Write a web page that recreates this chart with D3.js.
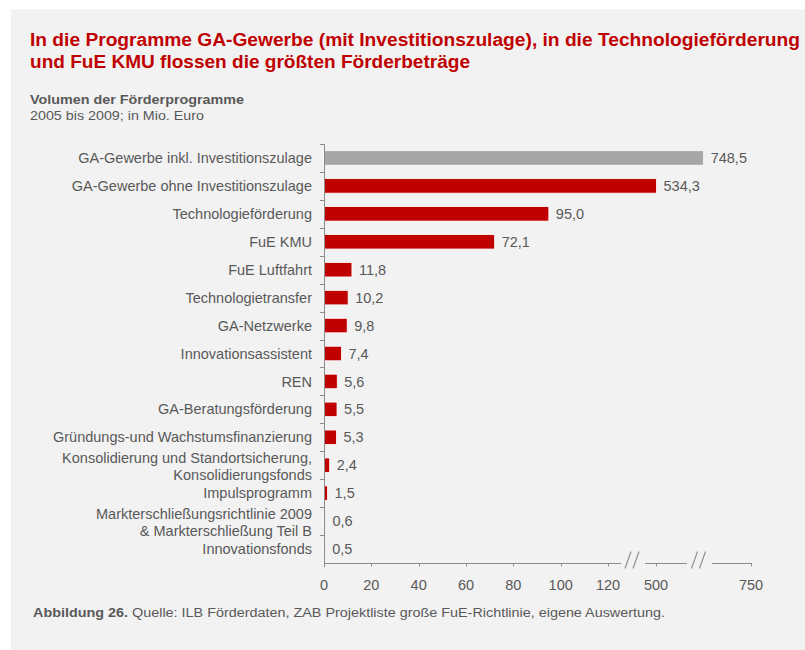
<!DOCTYPE html>
<html>
<head>
<meta charset="utf-8">
<script src="https://cdn.jsdelivr.net/npm/d3@7"></script>
<style>
  body { margin: 0; background: #fff; }
  svg text { font-family: "Liberation Sans", Arial, sans-serif; }
</style>
</head>
<body>
<svg id="chart" width="805" height="650"></svg>
<script>
// Chart data
const categories = [
    "GA-Gewerbe inkl. Investitionszulage",
    "GA-Gewerbe ohne Investitionszulage",
    "Technologieförderung",
    "FuE KMU",
    "FuE Luftfahrt",
    "Technologietransfer",
    "GA-Netzwerke",
    "Innovationsassistent",
    "REN",
    "GA-Beratungsförderung",
    "Gründungs-und Wachstumsfinanzierung",
    "Konsolidierung und Standortsicherung,\nKonsolidierungsfonds",
    "Impulsprogramm",
    "Markterschließungsrichtlinie 2009\n& Markterschließung Teil B",
    "Innovationsfonds"
];
const values = [748.5, 534.3, 95.0, 72.1, 11.8, 10.2, 9.8, 7.4, 5.6, 5.5, 5.3, 2.4, 1.5, 0.6, 0.5];
const highlighted = ["GA-Gewerbe inkl. Investitionszulage"];
const tickValues = [0, 20, 40, 60, 80, 100, 120, 500, 750];
// broken axis: the domain pieces
const axisDomain = [0, 120, 500, 750];

const RED = '#C00000';
const GREY_BAR = '#A6A6A6';
const TEXT = '#595959';
const AXIS = '#8C8C8C';

const svg = d3.select('#chart');

// panel background
svg.append('rect')
    .attr('x', 11).attr('y', 9)
    .attr('width', 794).attr('height', 641)
    .attr('fill', '#F2F2F2');

// Title
const title = svg.append('g').attr('fill', RED)
    .style('font-family', '"Liberation Sans Narrow", "Arial Narrow", "Liberation Sans", sans-serif')
    .style('font-weight', 'bold').style('font-size', '18px');
title.append('text').attr('x', 30).attr('y', 46)
    .attr('textLength', 770).attr('lengthAdjust', 'spacingAndGlyphs')
    .text('In die Programme GA-Gewerbe (mit Investitionszulage), in die Technologieförderung');
title.append('text').attr('x', 30).attr('y', 68)
    .attr('textLength', 440).attr('lengthAdjust', 'spacingAndGlyphs')
    .text('und FuE KMU flossen die größten Förderbeträge');

svg.append('text').attr('x', 30).attr('y', 104)
    .attr('fill', TEXT).style('font-weight', 'bold').style('font-size', '13px')
    .attr('textLength', 214).attr('lengthAdjust', 'spacingAndGlyphs')
    .text('Volumen der Förderprogramme');
svg.append('text').attr('x', 30).attr('y', 120)
    .attr('fill', TEXT).style('font-size', '13px')
    .attr('textLength', 174).attr('lengthAdjust', 'spacingAndGlyphs')
    .text('2005 bis 2009; in Mio. Euro');

// Scales
const x0 = 324;
const xAxisScale = d3.scaleLinear().domain(axisDomain).range([x0, 608, 656, 751]);
const xBar = d3.scaleLinear().domain(axisDomain).range([x0, 608, 649, 704]);
const y = d3.scaleBand().domain(categories).range([144, 563])
    .paddingInner(0.48).paddingOuter(0.24);

// Bars
svg.append('g').selectAll('rect')
    .data(categories)
    .join('rect')
    .attr('x', x0)
    .attr('y', d => y(d))
    .attr('width', (d, i) => xBar(values[i]) - x0)
    .attr('height', y.bandwidth())
    .attr('fill', d => highlighted.includes(d) ? GREY_BAR : RED)
    .attr('stroke', '#fff')
    .attr('stroke-width', 0.8);

// Value labels
const fmt = v => d3.format('.1f')(v).replace('.', ',');
svg.append('g').selectAll('text')
    .data(categories)
    .join('text')
    .attr('x', (d, i) => xBar(values[i]) + 7)
    .attr('y', d => y(d) + y.bandwidth() / 2)
    .attr('dy', '0.35em')
    .attr('fill', TEXT)
    .style('font-size', '14.5px')
    .text((d, i) => fmt(values[i]));

// Category labels (multi-line)
const lineH = 17;
svg.append('g').selectAll('text')
    .data(categories)
    .join('text')
    .attr('text-anchor', 'end')
    .attr('fill', TEXT)
    .style('font-size', '14.5px')
    .each(function (d) {
        const lines = d.split('\n');
        const cy = y(d) + y.bandwidth() / 2 + (lines.length > 1 ? 1.5 : 0);
        const top = cy - (lines.length - 1) * lineH / 2;
        d3.select(this).selectAll('tspan')
            .data(lines)
            .join('tspan')
            .attr('x', 312)
            .attr('y', (l, j) => top + j * lineH)
            .attr('dy', '0.35em')
            .text(l => l);
    });

// Y axis line with ticks at band boundaries
const yAxis = svg.append('g').attr('stroke', AXIS).attr('stroke-width', 1);
yAxis.append('line')
    .attr('x1', x0 + 0.5).attr('x2', x0 + 0.5)
    .attr('y1', 144).attr('y2', 567);
const bounds = categories.map(c => y(c) - y.step() * y.paddingInner() / 2);
yAxis.selectAll('.ytick')
    .data(bounds)
    .join('line')
    .attr('class', 'ytick')
    .attr('x1', x0 - 4).attr('x2', x0)
    .attr('y1', d => Math.round(d) + 0.5).attr('y2', d => Math.round(d) + 0.5);

// X axis (broken)
const axisY = 563.5;
const segments = [
    [x0, xAxisScale(120) + 13],
    [xAxisScale(500) - 11, xAxisScale(500) + 31],
    [xAxisScale(750) - 39, xAxisScale(750) + 1]
];
const xAxis = svg.append('g').attr('stroke', AXIS).attr('stroke-width', 1);
xAxis.selectAll('.seg')
    .data(segments)
    .join('line')
    .attr('class', 'seg')
    .attr('x1', d => d[0]).attr('x2', d => d[1])
    .attr('y1', axisY).attr('y2', axisY);
xAxis.selectAll('.xtick')
    .data(tickValues)
    .join('line')
    .attr('class', 'xtick')
    .attr('x1', d => Math.round(xAxisScale(d)) + 0.5)
    .attr('x2', d => Math.round(xAxisScale(d)) + 0.5)
    .attr('y1', axisY).attr('y2', axisY + 3);

// break marks "//"
const breakCenters = [
    (segments[0][1] + segments[1][0]) / 2,
    (segments[1][1] + segments[2][0]) / 2
];
breakCenters.forEach(c => {
    [-4, 4].forEach(off => {
        xAxis.append('line')
            .attr('x1', c + off - 4).attr('y1', axisY + 5)
            .attr('x2', c + off + 2).attr('y2', axisY - 12)
            .attr('stroke-width', 1.1);
    });
});

svg.append('g').selectAll('text')
    .data(tickValues)
    .join('text')
    .attr('x', d => xAxisScale(d))
    .attr('y', 590)
    .attr('text-anchor', 'middle')
    .attr('fill', TEXT)
    .style('font-size', '14.5px')
    .text(d => d);

// Caption
const cap = svg.append('text').attr('x', 33).attr('y', 617)
    .attr('fill', TEXT).style('font-size', '12.5px')
    .attr('textLength', 632).attr('lengthAdjust', 'spacingAndGlyphs');
cap.append('tspan').style('font-weight', 'bold').text('Abbildung 26.');
cap.append('tspan').text(' Quelle: ILB Förderdaten, ZAB Projektliste große FuE-Richtlinie, eigene Auswertung.');
</script>
</body>
</html>
